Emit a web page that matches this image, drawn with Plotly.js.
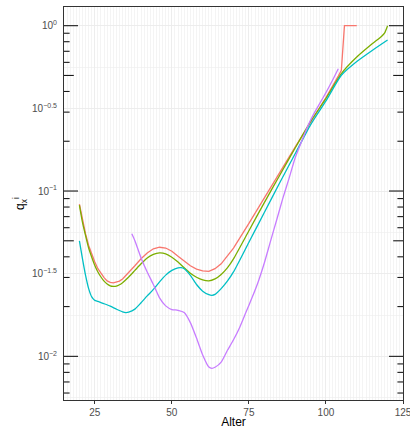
<!DOCTYPE html>
<html>
<head>
<meta charset="utf-8">
<script src="https://cdn.plot.ly/plotly-3.0.1.min.js"></script>
<style>html,body{margin:0;padding:0;background:#fff;}#chart{width:410px;height:429px;}</style>
</head>
<body>
<div id="chart"></div>
<script>
// Data (age -> q_x)
const redAge = [20,21,22,23,24,25,26,27,28,29,30,31,32,33,34,36,38,40,42,44,46,48,50,52,54,56,58,60,62,64,66,68,70,75,80,85,90,95,100,104,105,106,110];
const redQ   = [0.0834,0.0661,0.0550,0.0468,0.0412,0.0372,0.0339,0.0316,0.0299,0.0286,0.0280,0.0278,0.0280,0.0285,0.0294,0.0320,0.0353,0.0389,0.0422,0.0447,0.0457,0.0452,0.0432,0.0403,0.0376,0.0353,0.0337,0.0329,0.0327,0.0339,0.0363,0.0403,0.0452,0.0638,0.0912,0.1303,0.1841,0.2600,0.3673,0.4955,0.537,1,1];

const greenAge = [20,21,22,23,24,25,26,27,28,29,30,31,32,33,34,36,38,40,42,44,46,48,50,52,54,56,58,60,62,64,66,68,70,75,80,85,90,95,100,105,110,115,118,119,120];
const greenQ   = [0.0822,0.0646,0.0537,0.0452,0.0398,0.0355,0.0324,0.0302,0.0285,0.0274,0.0267,0.0265,0.0266,0.0271,0.0279,0.0302,0.0331,0.0363,0.0394,0.0414,0.0422,0.0417,0.0398,0.0372,0.0343,0.0318,0.0301,0.0290,0.0286,0.0294,0.0313,0.0343,0.0389,0.0575,0.0851,0.1245,0.1820,0.2630,0.3631,0.5129,0.6457,0.7762,0.861,0.9016,1.0];

const cyanAge = [20,21,22,23,24,25,26,28,30,32,34,35,36,38,40,42,44,46,48,50,52,53,54,56,58,60,62,63,64,66,68,70,75,80,85,90,95,100,105,110,115,120];
const cyanQ   = [0.0499,0.0389,0.0309,0.0257,0.0229,0.0218,0.0215,0.0208,0.0201,0.0193,0.0186,0.0184,0.0185,0.0193,0.0211,0.0232,0.0254,0.0282,0.0310,0.0331,0.0343,0.0344,0.0339,0.0309,0.0272,0.0248,0.0236,0.0234,0.0237,0.0257,0.0285,0.0324,0.0490,0.0741,0.1122,0.1679,0.2512,0.3508,0.5012,0.6067,0.7079,0.8185];

const purpleAge = [37,38,40,42,44,46,48,50,52,54,56,58,60,62,63,64,66,68,70,72,74,76,78,80,82,84,86,88,90,92,94,96,98,100,102,104];
const purpleQ   = [0.0552,0.0501,0.0394,0.0324,0.0272,0.0226,0.0202,0.0192,0.0190,0.0184,0.0160,0.0129,0.0102,0.00861,0.00847,0.00859,0.00923,0.01084,0.01259,0.01496,0.0184,0.0226,0.0282,0.0367,0.0496,0.0668,0.0902,0.1189,0.1585,0.1972,0.2443,0.2917,0.3388,0.3936,0.4624,0.5495];

const xTicks = [25,50,75,100,125];
const yTickVals = [1, 0.316228, 0.1, 0.0316228, 0.01];
const yTickText = ['10<sup>0</sup>','10<sup>−0.5</sup>','10<sup>−1</sup>','10<sup>−1.5</sup>','10<sup>−2</sup>'];
const yMinorGrid = [0.562341, 0.177828, 0.0562341, 0.0177828, 0.00562341];
// log tick marks (annotation_logticks style) on both sides of the panel
const logDecades = [0.01, 0.1, 1];
const logFives = [0.05, 0.5];
const logOthers = [0.006,0.007,0.008,0.009,0.02,0.03,0.04,0.06,0.07,0.08,0.09,0.2,0.3,0.4,0.6,0.7,0.8,0.9];

const colors = ['#F8766D','#7CAE00','#00BFC4','#C77CFF'];
const yRange = [-2.264, 0.113];
const xRange = [15, 125];

function line(x, y, c, shape) {
  return {x: x, y: y, type: 'scatter', mode: 'lines', showlegend: false, hoverinfo: 'skip',
          line: {color: c, width: 1.3, shape: shape, smoothing: 0.6}};
}

// log tick marks drawn as horizontal-line markers sitting on both panel edges
// (marker is centred on the edge, twice the wanted length, the outer half is clipped)
function logTickMarkers(vals, lenPx) {
  const xs = [], ys = [];
  vals.forEach(function (v) { xs.push(xRange[0], xRange[1]); ys.push(v, v); });
  return {x: xs, y: ys, type: 'scatter', mode: 'markers', showlegend: false, hoverinfo: 'skip',
          cliponaxis: true,
          marker: {symbol: 'line-ew', size: 2 * lenPx, color: '#1a1a1a', line: {color: '#1a1a1a', width: 1.1}}};
}

const data = [
  line(redAge, redQ, colors[0], 'linear'),
  line(greenAge, greenQ, colors[1], 'spline'),
  line(cyanAge, cyanQ, colors[2], 'spline'),
  line(purpleAge, purpleQ, colors[3], 'spline'),
  logTickMarkers(logDecades, 10),
  logTickMarkers(logFives, 7),
  logTickMarkers(logOthers, 4)
];

const layout = {
  width: 410, height: 429,
  margin: {l: 64, r: 7, t: 7, b: 29, pad: 0},
  paper_bgcolor: '#ffffff', plot_bgcolor: '#ffffff',
  font: {family: 'Liberation Sans, Arial, sans-serif', color: '#000000'},
  xaxis: {
    range: xRange, autorange: false,
    tickmode: 'array', tickvals: xTicks,
    ticks: 'outside', ticklen: 3, tickcolor: '#333333', tickwidth: 1,
    tickfont: {size: 10, color: '#4d4d4d'}, ticklabeloverflow: 'allow',
    showline: true, mirror: true, linecolor: '#333333', linewidth: 1,
    showgrid: true, gridcolor: '#ebebeb', gridwidth: 0.8, zeroline: false,
    minor: {tickmode: 'linear', tick0: 15, dtick: 1, showgrid: true, gridcolor: '#ececec', gridwidth: 0.6, ticks: ''},
    title: {text: 'Alter', font: {size: 12, color: '#000000'}, standoff: 2},
    automargin: false
  },
  yaxis: {
    type: 'log', range: yRange, autorange: false,
    tickmode: 'array', tickvals: yTickVals, ticktext: yTickText,
    ticks: '', tickfont: {size: 10, color: '#4d4d4d'}, ticklabelstandoff: 4,
    showline: true, mirror: true, linecolor: '#333333', linewidth: 1,
    showgrid: true, gridcolor: '#ebebeb', gridwidth: 0.9, zeroline: false,
    minor: {tickmode: 'array', tickvals: yMinorGrid, showgrid: true, gridcolor: '#ededed', gridwidth: 0.6, ticks: ''},
    title: {text: 'q<sub>x</sub><sup>i</sup>', font: {size: 12, color: '#000000'}, standoff: 4},
    automargin: false
  }
};

Plotly.newPlot('chart', data, layout, {displayModeBar: false, staticPlot: true});
</script>
</body>
</html>
